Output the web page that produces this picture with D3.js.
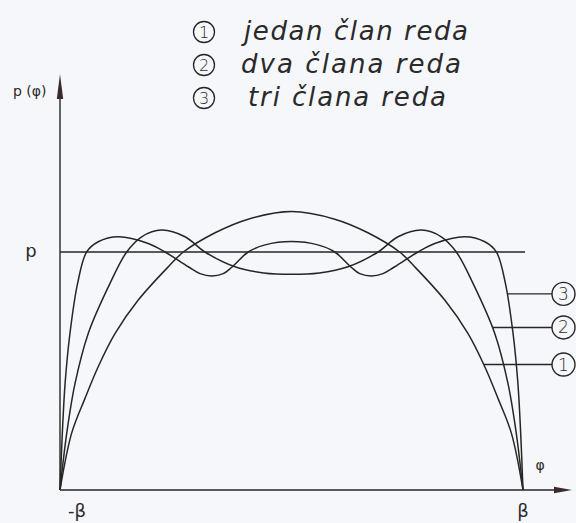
<!DOCTYPE html>
<html>
<head>
<meta charset="utf-8">
<script src="https://cdn.jsdelivr.net/npm/d3@7"></script>
<style>
  html, body { margin: 0; padding: 0; background: #f6f7fa; }
  svg { display: block; }
  text { fill: #2a2a2a; }
</style>
</head>
<body>
<svg id="chart" width="576" height="523"></svg>
<script>
// Pressure distribution p(φ) over the contact angle -β..β,
// approximated by a series with one, two and three terms.
// φ is given as a fraction of β, p(φ) as a fraction of the nominal p.

const oneTermPhi = [-1, -0.95, -0.892, -0.835, -0.762, -0.662, -0.532, -0.467, -0.33, -0.187, 0,
                    0.187, 0.33, 0.467, 0.532, 0.662, 0.762, 0.835, 0.892, 0.95, 1];
const oneTermP   = [0, 0.238, 0.385, 0.518, 0.658, 0.798, 0.938, 1.0, 1.081, 1.138, 1.17,
                    1.138, 1.081, 1.0, 0.938, 0.798, 0.658, 0.518, 0.385, 0.238, 0];

const twoTermsPhi = [-1, -0.971, -0.935, -0.878, -0.784, -0.712, -0.647, -0.561, -0.46, -0.374, -0.244, -0.12, 0,
                     0.12, 0.244, 0.374, 0.46, 0.561, 0.647, 0.712, 0.784, 0.878, 0.935, 0.971, 1];
const twoTermsP   = [0, 0.238, 0.448, 0.658, 0.868, 1.0, 1.064, 1.092, 1.064, 1.0, 0.938, 0.912, 0.906,
                     0.912, 0.938, 1.0, 1.064, 1.092, 1.064, 1.0, 0.868, 0.658, 0.448, 0.238, 0];

const threeTermsPhi = [-1, -0.99, -0.978, -0.957, -0.924, -0.885, -0.835, -0.748, -0.619, -0.546, -0.446,
                       -0.395, -0.345, -0.295, -0.258, -0.187, -0.114, 0,
                       0.114, 0.187, 0.258, 0.295, 0.345, 0.395, 0.446, 0.546, 0.619, 0.748, 0.835, 0.885, 0.924,
                       0.957, 0.978, 0.99, 1];
const threeTermsP   = [0, 0.238, 0.448, 0.658, 0.868, 1.0, 1.043, 1.064, 1.036, 1.0, 0.938,
                       0.909, 0.899, 0.909, 0.936, 1.0, 1.03, 1.044,
                       1.03, 1.0, 0.936, 0.909, 0.899, 0.909, 0.938, 1.0, 1.036, 1.064, 1.043, 1.0, 0.868,
                       0.658, 0.448, 0.238, 0];

// nominal (uniform) pressure level
const nominalP = 1;

// legend entries and the level (in p units) where each curve gets its callout
const seriesNumbers = ["1", "2", "3"];
const legendLabels  = ["jedan član reda", "dva člana reda", "tri člana reda"];
const calloutP      = [0.527, 0.683, 0.824];

// axis tick labels
const xTickValues = [-1, 1];
const xTickLabels = ["-β", "β"];
const yTickValues = [nominalP];
const yTickLabels = ["p"];

const series = [
  { phi: oneTermPhi,    p: oneTermP },
  { phi: twoTermsPhi,   p: twoTermsP },
  { phi: threeTermsPhi, p: threeTermsP }
];

const ink = "#262626";
const thinFont = "'DejaVu Sans ExtraLight', 'DejaVu Sans'";
const svg = d3.select("#chart");

const x = d3.scaleLinear().domain([-1, 1]).range([60, 523]);
const y = d3.scaleLinear().domain([0, 1]).range([490, 252]);

// ---- axes -------------------------------------------------------------
const axes = svg.append("g").attr("stroke", ink).attr("stroke-width", 1.4).attr("fill", "none");
axes.append("line").attr("x1", x(-1)).attr("x2", 556).attr("y1", y(0)).attr("y2", y(0));
axes.append("line").attr("x1", x(-1)).attr("x2", x(-1)).attr("y1", y(0)).attr("y2", 96);

// arrow heads
svg.append("path")
  .attr("d", `M${x(-1)},74 L${x(-1) - 3.2},99 L${x(-1) + 3.2},99 Z`)
  .attr("fill", "#3a2b2b");
svg.append("path")
  .attr("d", `M572,${y(0)} L554,${y(0) - 3.2} L554,${y(0) + 3.2} Z`)
  .attr("fill", "#3a2b2b");

// x tick labels (-β, β)
svg.append("g").selectAll("text")
  .data(xTickValues)
  .join("text")
  .attr("x", d => x(d) + (d < 0 ? 17 : 0))
  .attr("y", 517)
  .attr("text-anchor", "middle")
  .attr("font-family", "DejaVu Sans")
  .attr("font-size", 18)
  .text((d, i) => xTickLabels[i]);

// y tick label p
svg.append("g").selectAll("text")
  .data(yTickValues)
  .join("text")
  .attr("x", 31)
  .attr("y", d => y(d) + 5)
  .attr("text-anchor", "middle")
  .attr("font-family", "DejaVu Sans")
  .attr("font-size", 18)
  .text((d, i) => yTickLabels[i]);

// axis titles
svg.append("text").attr("x", 13).attr("y", 96)
  .attr("font-family", "DejaVu Sans").attr("font-size", 14)
  .text("p (φ)");
svg.append("text").attr("x", 540).attr("y", 470)
  .attr("text-anchor", "middle")
  .attr("font-family", "DejaVu Sans").attr("font-size", 14)
  .text("φ");

// ---- nominal pressure line -------------------------------------------
svg.append("line")
  .attr("x1", x(-1)).attr("x2", x(1) + 2)
  .attr("y1", y(nominalP)).attr("y2", y(nominalP))
  .attr("stroke", ink).attr("stroke-width", 1.4);

// ---- series curves ----------------------------------------------------
const line = d3.line()
  .x(d => x(d[0]))
  .y(d => y(d[1]))
  .curve(d3.curveCatmullRom.alpha(0.5));

const curves = svg.append("g").attr("fill", "none").attr("stroke", ink).attr("stroke-width", 1.5);
const paths = series.map(s =>
  curves.append("path").attr("d", line(s.phi.map((f, i) => [f, s.p[i]])))
);

// ---- callouts on the falling right branch -----------------------------
const circleX = 563.5, circleR = 11.5;
calloutP.forEach((pv, i) => {
  const node = paths[i].node();
  const total = node.getTotalLength();
  const cy = y(pv);
  // walk the rendered path to find where the right branch crosses this level
  let best = null, bestD = Infinity;
  for (let l = 0; l <= total; l += 0.25) {
    const pt = node.getPointAtLength(l);
    if (pt.x < x(0)) continue;
    const dd = Math.abs(pt.y - cy);
    if (dd < bestD) { bestD = dd; best = pt; }
  }
  const g = svg.append("g");
  g.append("line")
    .attr("x1", best.x).attr("x2", circleX - circleR)
    .attr("y1", cy).attr("y2", cy)
    .attr("stroke", ink).attr("stroke-width", 1.4);
  g.append("circle")
    .attr("cx", circleX).attr("cy", cy).attr("r", circleR)
    .attr("fill", "none").attr("stroke", ink).attr("stroke-width", 1.4);
  g.append("text")
    .attr("x", circleX).attr("y", cy + 6)
    .attr("text-anchor", "middle")
    .attr("font-family", thinFont).attr("font-weight", 200)
    .attr("font-size", 17)
    .text(seriesNumbers[i]);
});

// ---- legend -----------------------------------------------------------
const legendY = [32, 65, 98];
const legendTextX = [244, 241, 248];
const legendTextW = [224, 220, 198];
const legend = svg.append("g");
seriesNumbers.forEach((n, i) => {
  legend.append("circle")
    .attr("cx", 204).attr("cy", legendY[i]).attr("r", 10.5)
    .attr("fill", "none").attr("stroke", ink).attr("stroke-width", 1.3);
  legend.append("text")
    .attr("x", 204).attr("y", legendY[i] + 6)
    .attr("text-anchor", "middle")
    .attr("font-family", thinFont).attr("font-weight", 200)
    .attr("font-size", 16)
    .text(n);
  legend.append("text")
    .attr("x", legendTextX[i]).attr("y", legendY[i] + 8)
    .attr("font-family", thinFont).attr("font-style", "italic").attr("font-weight", 200)
    .attr("font-size", 26)
    .attr("textLength", legendTextW[i]).attr("lengthAdjust", "spacing")
    .text(legendLabels[i]);
});
</script>
</body>
</html>
